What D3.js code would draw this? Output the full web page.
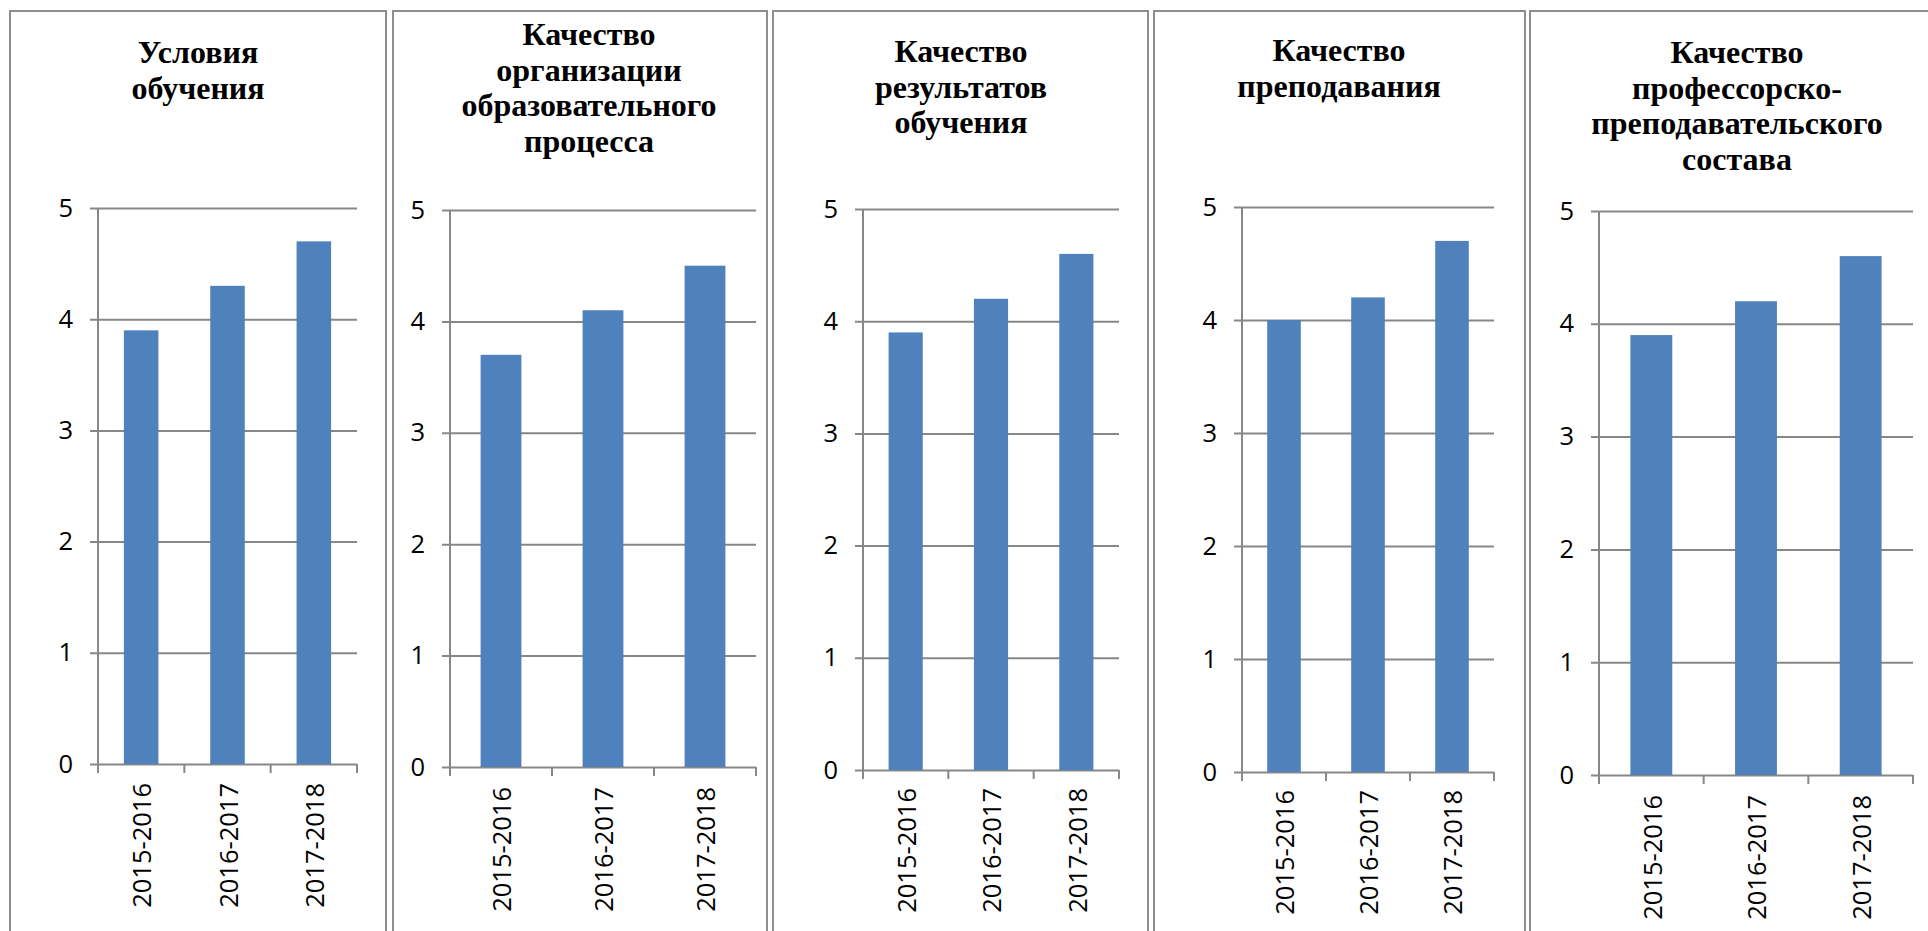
<!DOCTYPE html>
<html>
<head>
<meta charset="utf-8">
<script src="https://cdn.jsdelivr.net/npm/d3@7"></script>
<style>
    body { margin: 0; background: #fff; }
    .title { font-family: "Liberation Serif", "Times New Roman", serif; font-weight: bold; font-size: 32px; fill: #000; }
    .tick-label { font-family: "Open Sans", sans-serif; font-size: 25.5px; fill: #000; }
</style>
</head>
<body>
<svg id="chart" width="1928" height="931"></svg>
<script>
// data
const categories = ['2015-2016', '2016-2017', '2017-2018'];
const yTicks = [0, 1, 2, 3, 4, 5];

const titleConditions = ['Условия', 'обучения'];
const titleOrganization = ['Качество', 'организации', 'образовательного', 'процесса'];
const titleResults = ['Качество', 'результатов', 'обучения'];
const titleTeaching = ['Качество', 'преподавания'];
const titleStaff = ['Качество', 'профессорско-', 'преподавательского', 'состава'];

const conditionsValues = [3.9, 4.3, 4.7];
const organizationValues = [3.7, 4.1, 4.5];
const resultsValues = [3.9, 4.2, 4.6];
const teachingValues = [4.0, 4.2, 4.7];
const staffValues = [3.9, 4.2, 4.6];

// layout of each panel (frame, plot area, title)
const panels = [
    { title: titleConditions, values: conditionsValues, left: 10, right: 386, x0: 98, x1: 357, yTop: 208, yBottom: 764, titleX: 198, titleY: 63, labelGap: 19 },
    { title: titleOrganization, values: organizationValues, left: 393, right: 767, x0: 450, x1: 756, yTop: 210, yBottom: 767, titleX: 589, titleY: 45, labelGap: 20 },
    { title: titleResults, values: resultsValues, left: 773, right: 1148, x0: 863, x1: 1119, yTop: 209, yBottom: 770, titleX: 961, titleY: 62, labelGap: 18 },
    { title: titleTeaching, values: teachingValues, left: 1154, right: 1525, x0: 1242, x1: 1494, yTop: 207, yBottom: 772, titleX: 1339, titleY: 61, labelGap: 18 },
    { title: titleStaff, values: staffValues, left: 1530, right: 1960, x0: 1599, x1: 1913, yTop: 211, yBottom: 775, titleX: 1737, titleY: 63, labelGap: 20 }
];

const frameColor = '#8e8e8e';
const gridColor = '#878787';
const barColor = '#4f81bd';
const lineHeight = 35.5;

const svg = d3.select('#chart');

panels.forEach((p) => {
    const g = svg.append('g');

    // frame (bottom edge lies outside the picture)
    g.append('path')
        .attr('d', `M${p.left},960 V11 H${p.right} V960`)
        .attr('fill', 'none')
        .attr('stroke', frameColor)
        .attr('stroke-width', 2);

    // title
    const title = g.append('text')
        .attr('class', 'title')
        .attr('text-anchor', 'middle');
    p.title.forEach((line, i) => {
        title.append('tspan')
            .attr('x', p.titleX)
            .attr('y', p.titleY + i * lineHeight)
            .text(line);
    });

    const x = d3.scaleBand()
        .domain(categories)
        .range([p.x0, p.x1])
        .paddingInner(0.6)
        .paddingOuter(0.3);

    const y = d3.scaleLinear()
        .domain([0, 5])
        .range([p.yBottom, p.yTop]);

    // gridlines with left ticks
    g.append('g')
        .attr('transform', `translate(${p.x0}, 0)`)
        .call(d3.axisLeft(y).tickValues(yTicks).tickSize(0).tickPadding(25).tickFormat(d3.format('d')))
        .call((ax) => ax.select('.domain').remove())
        .call((ax) => ax.selectAll('text').attr('class', 'tick-label').attr('font-family', null).attr('font-size', null))
        .call((ax) => ax.selectAll('.tick line')
            .attr('x1', -8)
            .attr('x2', p.x1 - p.x0)
            .attr('stroke', gridColor)
            .attr('stroke-width', 2));

    // bars
    g.selectAll('rect.bar')
        .data(p.values)
        .enter()
        .append('rect')
        .attr('class', 'bar')
        .attr('x', (d, i) => x(categories[i]))
        .attr('y', (d) => y(d))
        .attr('width', x.bandwidth())
        .attr('height', (d) => y(0) - y(d))
        .attr('fill', barColor);

    // vertical axis line
    g.append('line')
        .attr('x1', p.x0).attr('x2', p.x0)
        .attr('y1', y(5)).attr('y2', y(0))
        .attr('stroke', gridColor)
        .attr('stroke-width', 2);

    // category boundary ticks
    const bounds = d3.range(categories.length + 1).map((i) => p.x0 + i * x.step());
    g.selectAll('line.xtick')
        .data(bounds)
        .enter()
        .append('line')
        .attr('class', 'xtick')
        .attr('x1', (d) => d).attr('x2', (d) => d)
        .attr('y1', y(0)).attr('y2', y(0) + 9)
        .attr('stroke', gridColor)
        .attr('stroke-width', 2);

    // rotated category labels
    g.selectAll('text.xlabel')
        .data(categories)
        .enter()
        .append('text')
        .attr('class', 'tick-label xlabel')
        .attr('text-anchor', 'end')
        .attr('dy', '0.36em')
        .attr('transform', (d) => `translate(${x(d) + x.bandwidth() / 2 + 1}, ${y(0) + p.labelGap}) rotate(-90)`)
        .text((d) => d);
});
</script>
</body>
</html>
